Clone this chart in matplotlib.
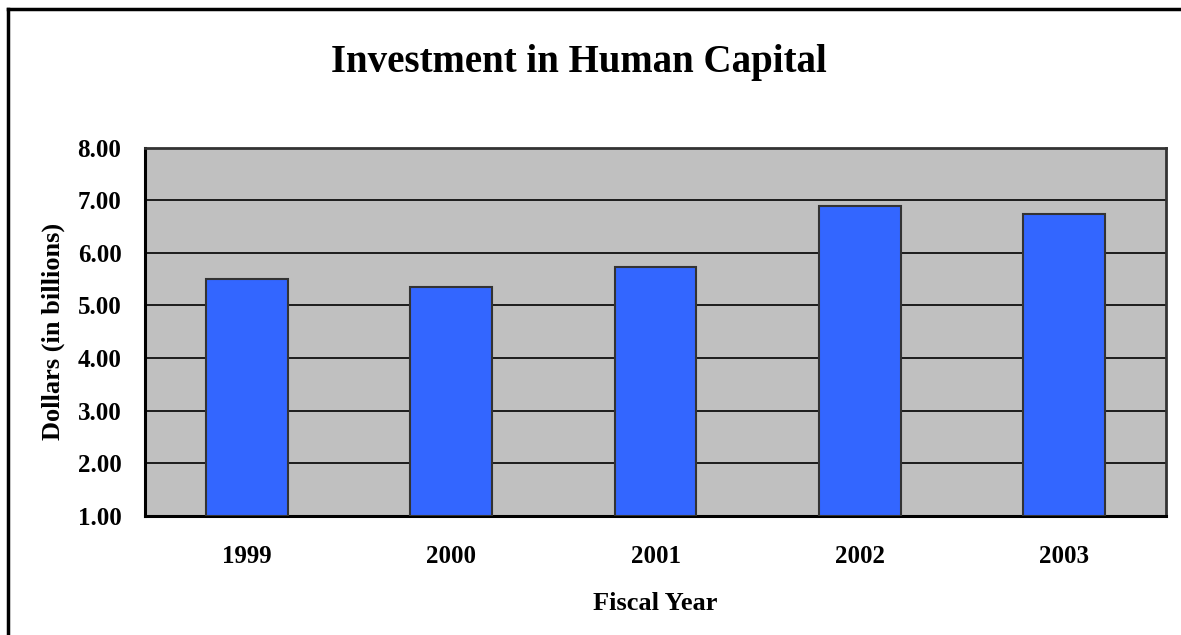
import matplotlib
matplotlib.use("Agg")
import matplotlib.pyplot as plt
from matplotlib.lines import Line2D

years = ["1999", "2000", "2001", "2002", "2003"]
dollars = [5.50, 5.35, 5.73, 6.88, 6.73]
y_ticks = [1, 2, 3, 4, 5, 6, 7, 8]

plt.rcParams["font.family"] = "Liberation Serif"
plt.rcParams["font.weight"] = "bold"

fig = plt.figure(figsize=(11.81, 6.35), dpi=100)
ax = fig.add_axes([0.1228, 0.1874, 0.8645, 0.5803])
ax.set_facecolor("#C0C0C0")

x = list(range(len(years)))
ax.bar(x, [d - 1 for d in dollars], bottom=1, width=0.4,
       color="#3366FF", edgecolor="#333333", linewidth=1.5, zorder=3)

ax.set_xlim(-0.5, len(years) - 0.5)
ax.set_ylim(1, 8)
ax.set_yticks(y_ticks)
ax.set_yticklabels([f"{t:.2f}" for t in y_ticks])
ax.set_xticks(x)
ax.set_xticklabels(years)
ax.tick_params(length=0, labelsize=18)
ax.tick_params(axis="y", pad=17)
ax.tick_params(axis="x", pad=21)
for lab in ax.get_xticklabels() + ax.get_yticklabels():
    lab.set_fontweight("bold")

ax.grid(axis="y", color="black", linewidth=1.2, zorder=1)
ax.set_axisbelow(True)

for side in ["left", "bottom"]:
    ax.spines[side].set_linewidth(2.2)
    ax.spines[side].set_color("black")
for side in ["top", "right"]:
    ax.spines[side].set_linewidth(2.0)
    ax.spines[side].set_color("#333333")

ax.set_ylabel("Dollars (in billions)", fontsize=19, fontweight="bold", labelpad=9)
ax.set_xlabel("Fiscal Year", fontsize=19, fontweight="bold", labelpad=17)

fig.text(0.49, 0.902, "Investment in Human Capital", ha="center", va="center",
         fontsize=28, fontweight="bold")

# outer frame (left and top edges only)
fig.add_artist(Line2D([0.0065, 0.0065], [0, 0.986], color="black", linewidth=2.5,
                      transform=fig.transFigure))
fig.add_artist(Line2D([0.0065, 1.0], [0.986, 0.986], color="black", linewidth=2.5,
                      transform=fig.transFigure))

fig.savefig("out.png", dpi=100)
